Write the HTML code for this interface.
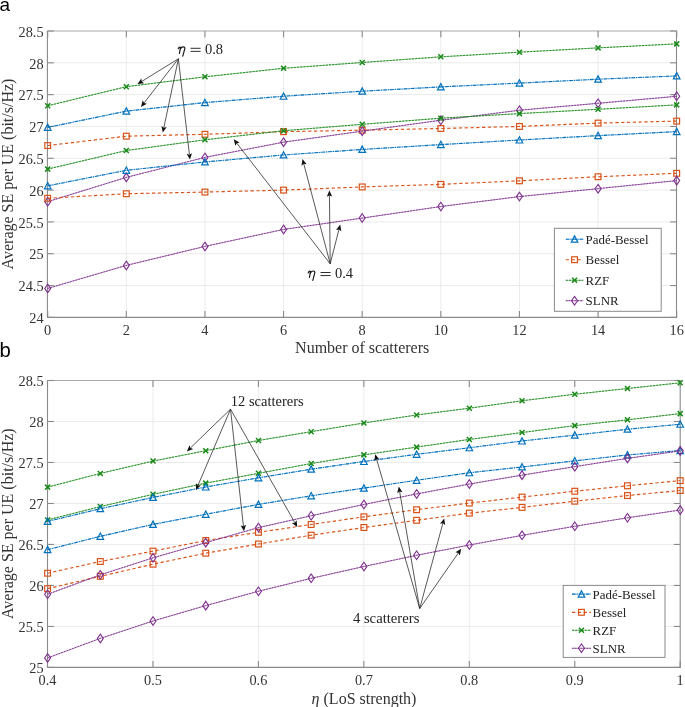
<!DOCTYPE html>
<html><head><meta charset="utf-8"><style>
html,body{margin:0;padding:0;background:#fff;}
svg{display:block;will-change:transform;}
.tk{font-family:"Liberation Serif",serif;font-size:14.3px;fill:#333;}
.lb{font-family:"Liberation Serif",serif;font-size:16px;fill:#333;}
.lg{font-family:"Liberation Serif",serif;font-size:12.9px;fill:#222;}
.an{font-family:"Liberation Serif",serif;font-size:14.5px;fill:#222;}
.pl{font-family:"Liberation Sans",sans-serif;font-size:19px;fill:#000;}
</style></head><body>
<svg width="685" height="707" viewBox="0 0 685 707">
<rect width="685" height="707" fill="#fff"/>
<line x1="126.33" y1="30.95" x2="126.33" y2="317.4" stroke="#ebebeb" stroke-width="1"/><line x1="204.95" y1="30.95" x2="204.95" y2="317.4" stroke="#ebebeb" stroke-width="1"/><line x1="283.57" y1="30.95" x2="283.57" y2="317.4" stroke="#ebebeb" stroke-width="1"/><line x1="362.20" y1="30.95" x2="362.20" y2="317.4" stroke="#ebebeb" stroke-width="1"/><line x1="440.82" y1="30.95" x2="440.82" y2="317.4" stroke="#ebebeb" stroke-width="1"/><line x1="519.45" y1="30.95" x2="519.45" y2="317.4" stroke="#ebebeb" stroke-width="1"/><line x1="598.08" y1="30.95" x2="598.08" y2="317.4" stroke="#ebebeb" stroke-width="1"/><line x1="47.4" y1="285.56" x2="676.5" y2="285.56" stroke="#ebebeb" stroke-width="1"/><line x1="47.4" y1="253.74" x2="676.5" y2="253.74" stroke="#ebebeb" stroke-width="1"/><line x1="47.4" y1="221.92" x2="676.5" y2="221.92" stroke="#ebebeb" stroke-width="1"/><line x1="47.4" y1="190.10" x2="676.5" y2="190.10" stroke="#ebebeb" stroke-width="1"/><line x1="47.4" y1="158.28" x2="676.5" y2="158.28" stroke="#ebebeb" stroke-width="1"/><line x1="47.4" y1="126.46" x2="676.5" y2="126.46" stroke="#ebebeb" stroke-width="1"/><line x1="47.4" y1="94.64" x2="676.5" y2="94.64" stroke="#ebebeb" stroke-width="1"/><line x1="47.4" y1="62.82" x2="676.5" y2="62.82" stroke="#ebebeb" stroke-width="1"/>
<line x1="46.9" y1="30.95" x2="677.0" y2="30.95" stroke="#a8a8a8" stroke-width="1.1"/><line x1="46.9" y1="317.4" x2="677.0" y2="317.4" stroke="#8a8a8a" stroke-width="1.1"/><line x1="47.4" y1="30.95" x2="47.4" y2="317.4" stroke="#8a8a8a" stroke-width="1.1"/><line x1="676.5" y1="30.95" x2="676.5" y2="317.4" stroke="#8a8a8a" stroke-width="1.1"/><line x1="47.70" y1="317.4" x2="47.70" y2="311.0" stroke="#8a8a8a" stroke-width="1.1"/><line x1="47.70" y1="30.95" x2="47.70" y2="37.35" stroke="#8a8a8a" stroke-width="1.1"/><line x1="126.33" y1="317.4" x2="126.33" y2="311.0" stroke="#8a8a8a" stroke-width="1.1"/><line x1="126.33" y1="30.95" x2="126.33" y2="37.35" stroke="#8a8a8a" stroke-width="1.1"/><line x1="204.95" y1="317.4" x2="204.95" y2="311.0" stroke="#8a8a8a" stroke-width="1.1"/><line x1="204.95" y1="30.95" x2="204.95" y2="37.35" stroke="#8a8a8a" stroke-width="1.1"/><line x1="283.57" y1="317.4" x2="283.57" y2="311.0" stroke="#8a8a8a" stroke-width="1.1"/><line x1="283.57" y1="30.95" x2="283.57" y2="37.35" stroke="#8a8a8a" stroke-width="1.1"/><line x1="362.20" y1="317.4" x2="362.20" y2="311.0" stroke="#8a8a8a" stroke-width="1.1"/><line x1="362.20" y1="30.95" x2="362.20" y2="37.35" stroke="#8a8a8a" stroke-width="1.1"/><line x1="440.82" y1="317.4" x2="440.82" y2="311.0" stroke="#8a8a8a" stroke-width="1.1"/><line x1="440.82" y1="30.95" x2="440.82" y2="37.35" stroke="#8a8a8a" stroke-width="1.1"/><line x1="519.45" y1="317.4" x2="519.45" y2="311.0" stroke="#8a8a8a" stroke-width="1.1"/><line x1="519.45" y1="30.95" x2="519.45" y2="37.35" stroke="#8a8a8a" stroke-width="1.1"/><line x1="598.08" y1="317.4" x2="598.08" y2="311.0" stroke="#8a8a8a" stroke-width="1.1"/><line x1="598.08" y1="30.95" x2="598.08" y2="37.35" stroke="#8a8a8a" stroke-width="1.1"/><line x1="676.70" y1="317.4" x2="676.70" y2="311.0" stroke="#8a8a8a" stroke-width="1.1"/><line x1="676.70" y1="30.95" x2="676.70" y2="37.35" stroke="#8a8a8a" stroke-width="1.1"/><line x1="47.4" y1="317.38" x2="53.8" y2="317.38" stroke="#8a8a8a" stroke-width="1.1"/><line x1="676.5" y1="317.38" x2="670.1" y2="317.38" stroke="#8a8a8a" stroke-width="1.1"/><line x1="47.4" y1="285.56" x2="53.8" y2="285.56" stroke="#8a8a8a" stroke-width="1.1"/><line x1="676.5" y1="285.56" x2="670.1" y2="285.56" stroke="#8a8a8a" stroke-width="1.1"/><line x1="47.4" y1="253.74" x2="53.8" y2="253.74" stroke="#8a8a8a" stroke-width="1.1"/><line x1="676.5" y1="253.74" x2="670.1" y2="253.74" stroke="#8a8a8a" stroke-width="1.1"/><line x1="47.4" y1="221.92" x2="53.8" y2="221.92" stroke="#8a8a8a" stroke-width="1.1"/><line x1="676.5" y1="221.92" x2="670.1" y2="221.92" stroke="#8a8a8a" stroke-width="1.1"/><line x1="47.4" y1="190.10" x2="53.8" y2="190.10" stroke="#8a8a8a" stroke-width="1.1"/><line x1="676.5" y1="190.10" x2="670.1" y2="190.10" stroke="#8a8a8a" stroke-width="1.1"/><line x1="47.4" y1="158.28" x2="53.8" y2="158.28" stroke="#8a8a8a" stroke-width="1.1"/><line x1="676.5" y1="158.28" x2="670.1" y2="158.28" stroke="#8a8a8a" stroke-width="1.1"/><line x1="47.4" y1="126.46" x2="53.8" y2="126.46" stroke="#8a8a8a" stroke-width="1.1"/><line x1="676.5" y1="126.46" x2="670.1" y2="126.46" stroke="#8a8a8a" stroke-width="1.1"/><line x1="47.4" y1="94.64" x2="53.8" y2="94.64" stroke="#8a8a8a" stroke-width="1.1"/><line x1="676.5" y1="94.64" x2="670.1" y2="94.64" stroke="#8a8a8a" stroke-width="1.1"/><line x1="47.4" y1="62.82" x2="53.8" y2="62.82" stroke="#8a8a8a" stroke-width="1.1"/><line x1="676.5" y1="62.82" x2="670.1" y2="62.82" stroke="#8a8a8a" stroke-width="1.1"/><line x1="47.4" y1="31.00" x2="53.8" y2="31.00" stroke="#8a8a8a" stroke-width="1.1"/><line x1="676.5" y1="31.00" x2="670.1" y2="31.00" stroke="#8a8a8a" stroke-width="1.1"/><text x="47.70" y="335.4" text-anchor="middle" class="tk">0</text><text x="126.33" y="335.4" text-anchor="middle" class="tk">2</text><text x="204.95" y="335.4" text-anchor="middle" class="tk">4</text><text x="283.57" y="335.4" text-anchor="middle" class="tk">6</text><text x="362.20" y="335.4" text-anchor="middle" class="tk">8</text><text x="440.82" y="335.4" text-anchor="middle" class="tk">10</text><text x="519.45" y="335.4" text-anchor="middle" class="tk">12</text><text x="598.08" y="335.4" text-anchor="middle" class="tk">14</text><text x="676.70" y="335.4" text-anchor="middle" class="tk">16</text><text x="43.6" y="323.08" text-anchor="end" class="tk">24</text><text x="43.6" y="291.26" text-anchor="end" class="tk">24.5</text><text x="43.6" y="259.44" text-anchor="end" class="tk">25</text><text x="43.6" y="227.62" text-anchor="end" class="tk">25.5</text><text x="43.6" y="195.80" text-anchor="end" class="tk">26</text><text x="43.6" y="163.98" text-anchor="end" class="tk">26.5</text><text x="43.6" y="132.16" text-anchor="end" class="tk">27</text><text x="43.6" y="100.34" text-anchor="end" class="tk">27.5</text><text x="43.6" y="68.52" text-anchor="end" class="tk">28</text><text x="43.6" y="36.70" text-anchor="end" class="tk">28.5</text>
<polyline points="47.70,127.41 126.33,111.12 204.95,102.59 283.57,96.23 362.20,91.20 440.82,86.88 519.45,83.12 598.08,79.18 676.70,75.93" fill="none" stroke="#0072BD" stroke-opacity="0.3" stroke-width="1.1"/><polyline points="47.70,127.41 126.33,111.12 204.95,102.59 283.57,96.23 362.20,91.20 440.82,86.88 519.45,83.12 598.08,79.18 676.70,75.93" fill="none" stroke="#0072BD" stroke-width="1.1" stroke-dasharray="3.6 1.1 1.1 1.1"/><path d="M47.70,124.11 L51.00,130.41 L44.40,130.41 Z" fill="none" stroke="#0072BD" stroke-width="1.2" stroke-linejoin="miter"/><path d="M126.33,107.82 L129.62,114.12 L123.03,114.12 Z" fill="none" stroke="#0072BD" stroke-width="1.2" stroke-linejoin="miter"/><path d="M204.95,99.30 L208.25,105.59 L201.65,105.59 Z" fill="none" stroke="#0072BD" stroke-width="1.2" stroke-linejoin="miter"/><path d="M283.57,92.93 L286.88,99.23 L280.27,99.23 Z" fill="none" stroke="#0072BD" stroke-width="1.2" stroke-linejoin="miter"/><path d="M362.20,87.90 L365.50,94.20 L358.90,94.20 Z" fill="none" stroke="#0072BD" stroke-width="1.2" stroke-linejoin="miter"/><path d="M440.82,83.58 L444.12,89.88 L437.52,89.88 Z" fill="none" stroke="#0072BD" stroke-width="1.2" stroke-linejoin="miter"/><path d="M519.45,79.82 L522.75,86.12 L516.15,86.12 Z" fill="none" stroke="#0072BD" stroke-width="1.2" stroke-linejoin="miter"/><path d="M598.08,75.88 L601.38,82.18 L594.78,82.18 Z" fill="none" stroke="#0072BD" stroke-width="1.2" stroke-linejoin="miter"/><path d="M676.70,72.63 L680.00,78.93 L673.40,78.93 Z" fill="none" stroke="#0072BD" stroke-width="1.2" stroke-linejoin="miter"/>
<polyline points="47.70,145.55 126.33,136.20 204.95,134.29 283.57,131.68 362.20,130.21 440.82,128.50 519.45,126.46 598.08,123.09 676.70,121.11" fill="none" stroke="#D95319" stroke-width="1.15" stroke-dasharray="3.3 2.5"/><rect x="44.80" y="142.65" width="5.8" height="5.8" fill="none" stroke="#D95319" stroke-width="1.2"/><rect x="123.42" y="133.30" width="5.8" height="5.8" fill="none" stroke="#D95319" stroke-width="1.2"/><rect x="202.05" y="131.39" width="5.8" height="5.8" fill="none" stroke="#D95319" stroke-width="1.2"/><rect x="280.68" y="128.78" width="5.8" height="5.8" fill="none" stroke="#D95319" stroke-width="1.2"/><rect x="359.30" y="127.31" width="5.8" height="5.8" fill="none" stroke="#D95319" stroke-width="1.2"/><rect x="437.93" y="125.60" width="5.8" height="5.8" fill="none" stroke="#D95319" stroke-width="1.2"/><rect x="516.55" y="123.56" width="5.8" height="5.8" fill="none" stroke="#D95319" stroke-width="1.2"/><rect x="595.18" y="120.19" width="5.8" height="5.8" fill="none" stroke="#D95319" stroke-width="1.2"/><rect x="673.80" y="118.21" width="5.8" height="5.8" fill="none" stroke="#D95319" stroke-width="1.2"/>
<polyline points="47.70,105.78 126.33,86.69 204.95,76.82 283.57,68.29 362.20,62.50 440.82,56.84 519.45,52.19 598.08,47.86 676.70,43.86" fill="none" stroke="#1a8a1a" stroke-opacity="0.45" stroke-width="0.95"/><polyline points="47.70,105.78 126.33,86.69 204.95,76.82 283.57,68.29 362.20,62.50 440.82,56.84 519.45,52.19 598.08,47.86 676.70,43.86" fill="none" stroke="#1a8a1a" stroke-width="0.95" stroke-dasharray="2.0 1.2"/><path d="M45.20,103.28 L50.20,108.28 M45.20,108.28 L50.20,103.28" stroke="#1a8a1a" stroke-width="1.5"/><path d="M123.83,84.19 L128.82,89.19 M123.83,89.19 L128.82,84.19" stroke="#1a8a1a" stroke-width="1.5"/><path d="M202.45,74.32 L207.45,79.32 M202.45,79.32 L207.45,74.32" stroke="#1a8a1a" stroke-width="1.5"/><path d="M281.07,65.79 L286.07,70.79 M281.07,70.79 L286.07,65.79" stroke="#1a8a1a" stroke-width="1.5"/><path d="M359.70,60.00 L364.70,65.00 M359.70,65.00 L364.70,60.00" stroke="#1a8a1a" stroke-width="1.5"/><path d="M438.32,54.34 L443.32,59.34 M438.32,59.34 L443.32,54.34" stroke="#1a8a1a" stroke-width="1.5"/><path d="M516.95,49.69 L521.95,54.69 M516.95,54.69 L521.95,49.69" stroke="#1a8a1a" stroke-width="1.5"/><path d="M595.58,45.36 L600.58,50.36 M595.58,50.36 L600.58,45.36" stroke="#1a8a1a" stroke-width="1.5"/><path d="M674.20,41.36 L679.20,46.36 M674.20,46.36 L679.20,41.36" stroke="#1a8a1a" stroke-width="1.5"/>
<polyline points="47.70,201.68 126.33,177.37 204.95,157.39 283.57,142.18 362.20,131.17 440.82,120.22 519.45,110.23 598.08,103.30 676.70,96.29" fill="none" stroke="#7E2F8E" stroke-opacity="0.6" stroke-width="0.9"/><polyline points="47.70,201.68 126.33,177.37 204.95,157.39 283.57,142.18 362.20,131.17 440.82,120.22 519.45,110.23 598.08,103.30 676.70,96.29" fill="none" stroke="#7E2F8E" stroke-width="0.9" stroke-dasharray="1.7 1.2"/><path d="M47.70,197.38 L50.70,201.68 L47.70,205.98 L44.70,201.68 Z" fill="none" stroke="#7E2F8E" stroke-width="1.1"/><path d="M126.33,173.07 L129.32,177.37 L126.33,181.67 L123.33,177.37 Z" fill="none" stroke="#7E2F8E" stroke-width="1.1"/><path d="M204.95,153.09 L207.95,157.39 L204.95,161.69 L201.95,157.39 Z" fill="none" stroke="#7E2F8E" stroke-width="1.1"/><path d="M283.57,137.88 L286.57,142.18 L283.57,146.48 L280.57,142.18 Z" fill="none" stroke="#7E2F8E" stroke-width="1.1"/><path d="M362.20,126.87 L365.20,131.17 L362.20,135.47 L359.20,131.17 Z" fill="none" stroke="#7E2F8E" stroke-width="1.1"/><path d="M440.82,115.92 L443.82,120.22 L440.82,124.52 L437.82,120.22 Z" fill="none" stroke="#7E2F8E" stroke-width="1.1"/><path d="M519.45,105.93 L522.45,110.23 L519.45,114.53 L516.45,110.23 Z" fill="none" stroke="#7E2F8E" stroke-width="1.1"/><path d="M598.08,99.00 L601.08,103.30 L598.08,107.60 L595.08,103.30 Z" fill="none" stroke="#7E2F8E" stroke-width="1.1"/><path d="M676.70,91.99 L679.70,96.29 L676.70,100.59 L673.70,96.29 Z" fill="none" stroke="#7E2F8E" stroke-width="1.1"/>
<polyline points="47.70,185.84 126.33,170.31 204.95,161.97 283.57,154.97 362.20,149.43 440.82,144.60 519.45,140.02 598.08,135.62 676.70,131.61" fill="none" stroke="#0072BD" stroke-opacity="0.3" stroke-width="1.1"/><polyline points="47.70,185.84 126.33,170.31 204.95,161.97 283.57,154.97 362.20,149.43 440.82,144.60 519.45,140.02 598.08,135.62 676.70,131.61" fill="none" stroke="#0072BD" stroke-width="1.1" stroke-dasharray="3.6 1.1 1.1 1.1"/><path d="M47.70,182.54 L51.00,188.84 L44.40,188.84 Z" fill="none" stroke="#0072BD" stroke-width="1.2" stroke-linejoin="miter"/><path d="M126.33,167.01 L129.62,173.31 L123.03,173.31 Z" fill="none" stroke="#0072BD" stroke-width="1.2" stroke-linejoin="miter"/><path d="M204.95,158.67 L208.25,164.97 L201.65,164.97 Z" fill="none" stroke="#0072BD" stroke-width="1.2" stroke-linejoin="miter"/><path d="M283.57,151.67 L286.88,157.97 L280.27,157.97 Z" fill="none" stroke="#0072BD" stroke-width="1.2" stroke-linejoin="miter"/><path d="M362.20,146.13 L365.50,152.43 L358.90,152.43 Z" fill="none" stroke="#0072BD" stroke-width="1.2" stroke-linejoin="miter"/><path d="M440.82,141.30 L444.12,147.60 L437.52,147.60 Z" fill="none" stroke="#0072BD" stroke-width="1.2" stroke-linejoin="miter"/><path d="M519.45,136.72 L522.75,143.02 L516.15,143.02 Z" fill="none" stroke="#0072BD" stroke-width="1.2" stroke-linejoin="miter"/><path d="M598.08,132.32 L601.38,138.62 L594.78,138.62 Z" fill="none" stroke="#0072BD" stroke-width="1.2" stroke-linejoin="miter"/><path d="M676.70,128.31 L680.00,134.61 L673.40,134.61 Z" fill="none" stroke="#0072BD" stroke-width="1.2" stroke-linejoin="miter"/>
<polyline points="47.70,198.31 126.33,193.73 204.95,192.07 283.57,190.10 362.20,186.92 440.82,184.37 519.45,180.81 598.08,176.74 676.70,173.30" fill="none" stroke="#D95319" stroke-width="1.15" stroke-dasharray="3.3 2.5"/><rect x="44.80" y="195.41" width="5.8" height="5.8" fill="none" stroke="#D95319" stroke-width="1.2"/><rect x="123.42" y="190.83" width="5.8" height="5.8" fill="none" stroke="#D95319" stroke-width="1.2"/><rect x="202.05" y="189.17" width="5.8" height="5.8" fill="none" stroke="#D95319" stroke-width="1.2"/><rect x="280.68" y="187.20" width="5.8" height="5.8" fill="none" stroke="#D95319" stroke-width="1.2"/><rect x="359.30" y="184.02" width="5.8" height="5.8" fill="none" stroke="#D95319" stroke-width="1.2"/><rect x="437.93" y="181.47" width="5.8" height="5.8" fill="none" stroke="#D95319" stroke-width="1.2"/><rect x="516.55" y="177.91" width="5.8" height="5.8" fill="none" stroke="#D95319" stroke-width="1.2"/><rect x="595.18" y="173.84" width="5.8" height="5.8" fill="none" stroke="#D95319" stroke-width="1.2"/><rect x="673.80" y="170.40" width="5.8" height="5.8" fill="none" stroke="#D95319" stroke-width="1.2"/>
<polyline points="47.70,169.10 126.33,150.52 204.95,139.82 283.57,130.72 362.20,124.30 440.82,118.19 519.45,113.60 598.08,109.28 676.70,104.89" fill="none" stroke="#1a8a1a" stroke-opacity="0.45" stroke-width="0.95"/><polyline points="47.70,169.10 126.33,150.52 204.95,139.82 283.57,130.72 362.20,124.30 440.82,118.19 519.45,113.60 598.08,109.28 676.70,104.89" fill="none" stroke="#1a8a1a" stroke-width="0.95" stroke-dasharray="2.0 1.2"/><path d="M45.20,166.60 L50.20,171.60 M45.20,171.60 L50.20,166.60" stroke="#1a8a1a" stroke-width="1.5"/><path d="M123.83,148.02 L128.82,153.02 M123.83,153.02 L128.82,148.02" stroke="#1a8a1a" stroke-width="1.5"/><path d="M202.45,137.32 L207.45,142.32 M202.45,142.32 L207.45,137.32" stroke="#1a8a1a" stroke-width="1.5"/><path d="M281.07,128.22 L286.07,133.22 M281.07,133.22 L286.07,128.22" stroke="#1a8a1a" stroke-width="1.5"/><path d="M359.70,121.80 L364.70,126.80 M359.70,126.80 L364.70,121.80" stroke="#1a8a1a" stroke-width="1.5"/><path d="M438.32,115.69 L443.32,120.69 M438.32,120.69 L443.32,115.69" stroke="#1a8a1a" stroke-width="1.5"/><path d="M516.95,111.10 L521.95,116.10 M516.95,116.10 L521.95,111.10" stroke="#1a8a1a" stroke-width="1.5"/><path d="M595.58,106.78 L600.58,111.78 M595.58,111.78 L600.58,106.78" stroke="#1a8a1a" stroke-width="1.5"/><path d="M674.20,102.39 L679.20,107.39 M674.20,107.39 L679.20,102.39" stroke="#1a8a1a" stroke-width="1.5"/>
<polyline points="47.70,288.42 126.33,265.39 204.95,246.42 283.57,229.43 362.20,218.10 440.82,206.52 519.45,196.59 598.08,188.64 676.70,180.62" fill="none" stroke="#7E2F8E" stroke-opacity="0.6" stroke-width="0.9"/><polyline points="47.70,288.42 126.33,265.39 204.95,246.42 283.57,229.43 362.20,218.10 440.82,206.52 519.45,196.59 598.08,188.64 676.70,180.62" fill="none" stroke="#7E2F8E" stroke-width="0.9" stroke-dasharray="1.7 1.2"/><path d="M47.70,284.12 L50.70,288.42 L47.70,292.72 L44.70,288.42 Z" fill="none" stroke="#7E2F8E" stroke-width="1.1"/><path d="M126.33,261.09 L129.32,265.39 L126.33,269.69 L123.33,265.39 Z" fill="none" stroke="#7E2F8E" stroke-width="1.1"/><path d="M204.95,242.12 L207.95,246.42 L204.95,250.72 L201.95,246.42 Z" fill="none" stroke="#7E2F8E" stroke-width="1.1"/><path d="M283.57,225.13 L286.57,229.43 L283.57,233.73 L280.57,229.43 Z" fill="none" stroke="#7E2F8E" stroke-width="1.1"/><path d="M362.20,213.80 L365.20,218.10 L362.20,222.40 L359.20,218.10 Z" fill="none" stroke="#7E2F8E" stroke-width="1.1"/><path d="M440.82,202.22 L443.82,206.52 L440.82,210.82 L437.82,206.52 Z" fill="none" stroke="#7E2F8E" stroke-width="1.1"/><path d="M519.45,192.29 L522.45,196.59 L519.45,200.89 L516.45,196.59 Z" fill="none" stroke="#7E2F8E" stroke-width="1.1"/><path d="M598.08,184.34 L601.08,188.64 L598.08,192.94 L595.08,188.64 Z" fill="none" stroke="#7E2F8E" stroke-width="1.1"/><path d="M676.70,176.32 L679.70,180.62 L676.70,184.92 L673.70,180.62 Z" fill="none" stroke="#7E2F8E" stroke-width="1.1"/>
<line x1="178.40" y1="58.80" x2="141.75" y2="81.47" stroke="#222" stroke-width="0.75"/><path d="M137.50,84.10 L141.35,78.54 L141.75,81.47 L144.19,83.13 Z" fill="#111"/>
<line x1="178.40" y1="58.80" x2="144.07" y2="102.95" stroke="#222" stroke-width="0.75"/><path d="M141.00,106.90 L142.67,100.35 L144.07,102.95 L146.94,103.66 Z" fill="#111"/>
<line x1="178.40" y1="58.80" x2="163.83" y2="127.71" stroke="#222" stroke-width="0.75"/><path d="M162.80,132.60 L161.44,125.98 L163.83,127.71 L166.72,127.09 Z" fill="#111"/>
<line x1="178.40" y1="58.80" x2="189.43" y2="154.63" stroke="#222" stroke-width="0.75"/><path d="M190.00,159.60 L186.61,153.75 L189.43,154.63 L191.97,153.13 Z" fill="#111"/>
<line x1="330.20" y1="263.80" x2="236.76" y2="143.15" stroke="#222" stroke-width="0.75"/><path d="M233.70,139.20 L239.63,142.45 L236.76,143.15 L235.36,145.76 Z" fill="#111"/>
<line x1="330.20" y1="263.80" x2="303.78" y2="163.83" stroke="#222" stroke-width="0.75"/><path d="M302.50,159.00 L306.69,164.30 L303.78,163.83 L301.47,165.68 Z" fill="#111"/>
<line x1="330.20" y1="263.80" x2="329.45" y2="195.40" stroke="#222" stroke-width="0.75"/><path d="M329.40,190.40 L332.17,196.57 L329.45,195.40 L326.77,196.63 Z" fill="#111"/>
<line x1="330.20" y1="263.80" x2="338.96" y2="229.44" stroke="#222" stroke-width="0.75"/><path d="M340.20,224.60 L341.28,231.28 L338.96,229.44 L336.05,229.94 Z" fill="#111"/>
<rect x="554.4" y="228.3" width="106.80" height="83.00" fill="#fff" stroke="#8a8a8a" stroke-width="1"/><line x1="565.8" y1="239.2" x2="583.3" y2="239.2" fill="none" stroke="#0072BD" stroke-opacity="0.3" stroke-width="1.1"/><line x1="565.8" y1="239.2" x2="583.3" y2="239.2" fill="none" stroke="#0072BD" stroke-width="1.1" stroke-dasharray="3.6 1.1 1.1 1.1"/><path d="M574.55,235.90 L577.85,242.20 L571.25,242.20 Z" fill="none" stroke="#0072BD" stroke-width="1.2" stroke-linejoin="miter"/><text x="585.6" y="243.80" class="lg">Padé-Bessel</text><line x1="565.8" y1="259.7" x2="583.3" y2="259.7" fill="none" stroke="#D95319" stroke-width="1.15" stroke-dasharray="3.3 2.5"/><rect x="571.65" y="256.80" width="5.8" height="5.8" fill="none" stroke="#D95319" stroke-width="1.2"/><text x="585.6" y="264.30" class="lg">Bessel</text><line x1="565.8" y1="280.3" x2="583.3" y2="280.3" fill="none" stroke="#1a8a1a" stroke-opacity="0.45" stroke-width="0.95"/><line x1="565.8" y1="280.3" x2="583.3" y2="280.3" fill="none" stroke="#1a8a1a" stroke-width="0.95" stroke-dasharray="2.0 1.2"/><path d="M572.05,277.80 L577.05,282.80 M572.05,282.80 L577.05,277.80" stroke="#1a8a1a" stroke-width="1.5"/><text x="585.6" y="284.90" class="lg">RZF</text><line x1="565.8" y1="300.7" x2="583.3" y2="300.7" fill="none" stroke="#7E2F8E" stroke-opacity="0.6" stroke-width="0.9"/><line x1="565.8" y1="300.7" x2="583.3" y2="300.7" fill="none" stroke="#7E2F8E" stroke-width="0.9" stroke-dasharray="1.7 1.2"/><path d="M574.55,296.40 L577.55,300.70 L574.55,305.00 L571.55,300.70 Z" fill="none" stroke="#7E2F8E" stroke-width="1.1"/><text x="585.6" y="305.30" class="lg">SLNR</text>
<line x1="152.95" y1="380.5" x2="152.95" y2="667.4" stroke="#ebebeb" stroke-width="1"/><line x1="258.40" y1="380.5" x2="258.40" y2="667.4" stroke="#ebebeb" stroke-width="1"/><line x1="363.85" y1="380.5" x2="363.85" y2="667.4" stroke="#ebebeb" stroke-width="1"/><line x1="469.30" y1="380.5" x2="469.30" y2="667.4" stroke="#ebebeb" stroke-width="1"/><line x1="574.75" y1="380.5" x2="574.75" y2="667.4" stroke="#ebebeb" stroke-width="1"/><line x1="47.5" y1="626.41" x2="680.2" y2="626.41" stroke="#ebebeb" stroke-width="1"/><line x1="47.5" y1="585.43" x2="680.2" y2="585.43" stroke="#ebebeb" stroke-width="1"/><line x1="47.5" y1="544.44" x2="680.2" y2="544.44" stroke="#ebebeb" stroke-width="1"/><line x1="47.5" y1="503.46" x2="680.2" y2="503.46" stroke="#ebebeb" stroke-width="1"/><line x1="47.5" y1="462.47" x2="680.2" y2="462.47" stroke="#ebebeb" stroke-width="1"/><line x1="47.5" y1="421.49" x2="680.2" y2="421.49" stroke="#ebebeb" stroke-width="1"/>
<line x1="47.0" y1="380.5" x2="680.7" y2="380.5" stroke="#a8a8a8" stroke-width="1.1"/><line x1="47.0" y1="667.4" x2="680.7" y2="667.4" stroke="#8a8a8a" stroke-width="1.1"/><line x1="47.5" y1="380.5" x2="47.5" y2="667.4" stroke="#8a8a8a" stroke-width="1.1"/><line x1="680.2" y1="380.5" x2="680.2" y2="667.4" stroke="#8a8a8a" stroke-width="1.1"/><line x1="47.50" y1="667.4" x2="47.50" y2="661.0" stroke="#8a8a8a" stroke-width="1.1"/><line x1="47.50" y1="380.5" x2="47.50" y2="386.9" stroke="#8a8a8a" stroke-width="1.1"/><line x1="152.95" y1="667.4" x2="152.95" y2="661.0" stroke="#8a8a8a" stroke-width="1.1"/><line x1="152.95" y1="380.5" x2="152.95" y2="386.9" stroke="#8a8a8a" stroke-width="1.1"/><line x1="258.40" y1="667.4" x2="258.40" y2="661.0" stroke="#8a8a8a" stroke-width="1.1"/><line x1="258.40" y1="380.5" x2="258.40" y2="386.9" stroke="#8a8a8a" stroke-width="1.1"/><line x1="363.85" y1="667.4" x2="363.85" y2="661.0" stroke="#8a8a8a" stroke-width="1.1"/><line x1="363.85" y1="380.5" x2="363.85" y2="386.9" stroke="#8a8a8a" stroke-width="1.1"/><line x1="469.30" y1="667.4" x2="469.30" y2="661.0" stroke="#8a8a8a" stroke-width="1.1"/><line x1="469.30" y1="380.5" x2="469.30" y2="386.9" stroke="#8a8a8a" stroke-width="1.1"/><line x1="574.75" y1="667.4" x2="574.75" y2="661.0" stroke="#8a8a8a" stroke-width="1.1"/><line x1="574.75" y1="380.5" x2="574.75" y2="386.9" stroke="#8a8a8a" stroke-width="1.1"/><line x1="680.20" y1="667.4" x2="680.20" y2="661.0" stroke="#8a8a8a" stroke-width="1.1"/><line x1="680.20" y1="380.5" x2="680.20" y2="386.9" stroke="#8a8a8a" stroke-width="1.1"/><line x1="47.5" y1="667.40" x2="53.9" y2="667.40" stroke="#8a8a8a" stroke-width="1.1"/><line x1="680.2" y1="667.40" x2="673.8000000000001" y2="667.40" stroke="#8a8a8a" stroke-width="1.1"/><line x1="47.5" y1="626.41" x2="53.9" y2="626.41" stroke="#8a8a8a" stroke-width="1.1"/><line x1="680.2" y1="626.41" x2="673.8000000000001" y2="626.41" stroke="#8a8a8a" stroke-width="1.1"/><line x1="47.5" y1="585.43" x2="53.9" y2="585.43" stroke="#8a8a8a" stroke-width="1.1"/><line x1="680.2" y1="585.43" x2="673.8000000000001" y2="585.43" stroke="#8a8a8a" stroke-width="1.1"/><line x1="47.5" y1="544.44" x2="53.9" y2="544.44" stroke="#8a8a8a" stroke-width="1.1"/><line x1="680.2" y1="544.44" x2="673.8000000000001" y2="544.44" stroke="#8a8a8a" stroke-width="1.1"/><line x1="47.5" y1="503.46" x2="53.9" y2="503.46" stroke="#8a8a8a" stroke-width="1.1"/><line x1="680.2" y1="503.46" x2="673.8000000000001" y2="503.46" stroke="#8a8a8a" stroke-width="1.1"/><line x1="47.5" y1="462.47" x2="53.9" y2="462.47" stroke="#8a8a8a" stroke-width="1.1"/><line x1="680.2" y1="462.47" x2="673.8000000000001" y2="462.47" stroke="#8a8a8a" stroke-width="1.1"/><line x1="47.5" y1="421.49" x2="53.9" y2="421.49" stroke="#8a8a8a" stroke-width="1.1"/><line x1="680.2" y1="421.49" x2="673.8000000000001" y2="421.49" stroke="#8a8a8a" stroke-width="1.1"/><line x1="47.5" y1="380.50" x2="53.9" y2="380.50" stroke="#8a8a8a" stroke-width="1.1"/><line x1="680.2" y1="380.50" x2="673.8000000000001" y2="380.50" stroke="#8a8a8a" stroke-width="1.1"/><text x="47.50" y="685.0" text-anchor="middle" class="tk">0.4</text><text x="152.95" y="685.0" text-anchor="middle" class="tk">0.5</text><text x="258.40" y="685.0" text-anchor="middle" class="tk">0.6</text><text x="363.85" y="685.0" text-anchor="middle" class="tk">0.7</text><text x="469.30" y="685.0" text-anchor="middle" class="tk">0.8</text><text x="574.75" y="685.0" text-anchor="middle" class="tk">0.9</text><text x="680.20" y="685.0" text-anchor="middle" class="tk">1</text><text x="43.6" y="673.10" text-anchor="end" class="tk">25</text><text x="43.6" y="632.11" text-anchor="end" class="tk">25.5</text><text x="43.6" y="591.13" text-anchor="end" class="tk">26</text><text x="43.6" y="550.14" text-anchor="end" class="tk">26.5</text><text x="43.6" y="509.16" text-anchor="end" class="tk">27</text><text x="43.6" y="468.17" text-anchor="end" class="tk">27.5</text><text x="43.6" y="427.19" text-anchor="end" class="tk">28</text><text x="43.6" y="386.20" text-anchor="end" class="tk">28.5</text>
<polyline points="47.60,549.66 100.32,536.34 153.03,524.41 205.75,514.28 258.47,504.39 311.18,495.81 363.90,488.13 416.62,480.28 469.33,472.77 522.05,466.96 574.77,460.83 627.48,454.95 680.20,450.54" fill="none" stroke="#0072BD" stroke-opacity="0.3" stroke-width="1.1"/><polyline points="47.60,549.66 100.32,536.34 153.03,524.41 205.75,514.28 258.47,504.39 311.18,495.81 363.90,488.13 416.62,480.28 469.33,472.77 522.05,466.96 574.77,460.83 627.48,454.95 680.20,450.54" fill="none" stroke="#0072BD" stroke-width="1.1" stroke-dasharray="3.6 1.1 1.1 1.1"/><path d="M47.60,546.36 L50.90,552.66 L44.30,552.66 Z" fill="none" stroke="#0072BD" stroke-width="1.2" stroke-linejoin="miter"/><path d="M100.32,533.04 L103.62,539.34 L97.02,539.34 Z" fill="none" stroke="#0072BD" stroke-width="1.2" stroke-linejoin="miter"/><path d="M153.03,521.11 L156.33,527.41 L149.73,527.41 Z" fill="none" stroke="#0072BD" stroke-width="1.2" stroke-linejoin="miter"/><path d="M205.75,510.98 L209.05,517.28 L202.45,517.28 Z" fill="none" stroke="#0072BD" stroke-width="1.2" stroke-linejoin="miter"/><path d="M258.47,501.09 L261.77,507.39 L255.17,507.39 Z" fill="none" stroke="#0072BD" stroke-width="1.2" stroke-linejoin="miter"/><path d="M311.18,492.51 L314.48,498.81 L307.88,498.81 Z" fill="none" stroke="#0072BD" stroke-width="1.2" stroke-linejoin="miter"/><path d="M363.90,484.83 L367.20,491.13 L360.60,491.13 Z" fill="none" stroke="#0072BD" stroke-width="1.2" stroke-linejoin="miter"/><path d="M416.62,476.98 L419.92,483.28 L413.32,483.28 Z" fill="none" stroke="#0072BD" stroke-width="1.2" stroke-linejoin="miter"/><path d="M469.33,469.47 L472.63,475.77 L466.03,475.77 Z" fill="none" stroke="#0072BD" stroke-width="1.2" stroke-linejoin="miter"/><path d="M522.05,463.66 L525.35,469.96 L518.75,469.96 Z" fill="none" stroke="#0072BD" stroke-width="1.2" stroke-linejoin="miter"/><path d="M574.77,457.53 L578.07,463.83 L571.47,463.83 Z" fill="none" stroke="#0072BD" stroke-width="1.2" stroke-linejoin="miter"/><path d="M627.48,451.65 L630.78,457.95 L624.18,457.95 Z" fill="none" stroke="#0072BD" stroke-width="1.2" stroke-linejoin="miter"/><path d="M680.20,447.24 L683.50,453.54 L676.90,453.54 Z" fill="none" stroke="#0072BD" stroke-width="1.2" stroke-linejoin="miter"/>
<polyline points="47.60,588.64 100.32,576.30 153.03,564.20 205.75,553.17 258.47,544.02 311.18,535.19 363.90,527.51 416.62,520.32 469.33,513.13 522.05,507.41 574.77,501.20 627.48,495.56 680.20,490.50" fill="none" stroke="#D95319" stroke-width="1.15" stroke-dasharray="3.3 2.5"/><rect x="44.70" y="585.74" width="5.8" height="5.8" fill="none" stroke="#D95319" stroke-width="1.2"/><rect x="97.42" y="573.40" width="5.8" height="5.8" fill="none" stroke="#D95319" stroke-width="1.2"/><rect x="150.13" y="561.30" width="5.8" height="5.8" fill="none" stroke="#D95319" stroke-width="1.2"/><rect x="202.85" y="550.27" width="5.8" height="5.8" fill="none" stroke="#D95319" stroke-width="1.2"/><rect x="255.57" y="541.12" width="5.8" height="5.8" fill="none" stroke="#D95319" stroke-width="1.2"/><rect x="308.28" y="532.29" width="5.8" height="5.8" fill="none" stroke="#D95319" stroke-width="1.2"/><rect x="361.00" y="524.61" width="5.8" height="5.8" fill="none" stroke="#D95319" stroke-width="1.2"/><rect x="413.72" y="517.42" width="5.8" height="5.8" fill="none" stroke="#D95319" stroke-width="1.2"/><rect x="466.43" y="510.23" width="5.8" height="5.8" fill="none" stroke="#D95319" stroke-width="1.2"/><rect x="519.15" y="504.51" width="5.8" height="5.8" fill="none" stroke="#D95319" stroke-width="1.2"/><rect x="571.87" y="498.30" width="5.8" height="5.8" fill="none" stroke="#D95319" stroke-width="1.2"/><rect x="624.58" y="492.66" width="5.8" height="5.8" fill="none" stroke="#D95319" stroke-width="1.2"/><rect x="677.30" y="487.60" width="5.8" height="5.8" fill="none" stroke="#D95319" stroke-width="1.2"/>
<polyline points="47.60,519.91 100.32,506.59 153.03,494.34 205.75,483.14 258.47,473.34 311.18,463.53 363.90,454.87 416.62,447.11 469.33,439.43 522.05,432.56 574.77,425.62 627.48,419.81 680.20,413.60" fill="none" stroke="#1a8a1a" stroke-opacity="0.45" stroke-width="0.95"/><polyline points="47.60,519.91 100.32,506.59 153.03,494.34 205.75,483.14 258.47,473.34 311.18,463.53 363.90,454.87 416.62,447.11 469.33,439.43 522.05,432.56 574.77,425.62 627.48,419.81 680.20,413.60" fill="none" stroke="#1a8a1a" stroke-width="0.95" stroke-dasharray="2.0 1.2"/><path d="M45.10,517.41 L50.10,522.41 M45.10,522.41 L50.10,517.41" stroke="#1a8a1a" stroke-width="1.5"/><path d="M97.82,504.09 L102.82,509.09 M97.82,509.09 L102.82,504.09" stroke="#1a8a1a" stroke-width="1.5"/><path d="M150.53,491.84 L155.53,496.84 M150.53,496.84 L155.53,491.84" stroke="#1a8a1a" stroke-width="1.5"/><path d="M203.25,480.64 L208.25,485.64 M203.25,485.64 L208.25,480.64" stroke="#1a8a1a" stroke-width="1.5"/><path d="M255.97,470.84 L260.97,475.84 M255.97,475.84 L260.97,470.84" stroke="#1a8a1a" stroke-width="1.5"/><path d="M308.68,461.03 L313.68,466.03 M308.68,466.03 L313.68,461.03" stroke="#1a8a1a" stroke-width="1.5"/><path d="M361.40,452.37 L366.40,457.37 M361.40,457.37 L366.40,452.37" stroke="#1a8a1a" stroke-width="1.5"/><path d="M414.12,444.61 L419.12,449.61 M414.12,449.61 L419.12,444.61" stroke="#1a8a1a" stroke-width="1.5"/><path d="M466.83,436.93 L471.83,441.93 M466.83,441.93 L471.83,436.93" stroke="#1a8a1a" stroke-width="1.5"/><path d="M519.55,430.06 L524.55,435.06 M519.55,435.06 L524.55,430.06" stroke="#1a8a1a" stroke-width="1.5"/><path d="M572.27,423.12 L577.27,428.12 M572.27,428.12 L577.27,423.12" stroke="#1a8a1a" stroke-width="1.5"/><path d="M624.98,417.31 L629.98,422.31 M624.98,422.31 L629.98,417.31" stroke="#1a8a1a" stroke-width="1.5"/><path d="M677.70,411.10 L682.70,416.10 M677.70,416.10 L682.70,411.10" stroke="#1a8a1a" stroke-width="1.5"/>
<polyline points="47.60,657.93 100.32,638.40 153.03,620.99 205.75,605.63 258.47,591.25 311.18,578.34 363.90,566.49 416.62,555.30 469.33,545.00 522.05,535.36 574.77,526.29 627.48,517.79 680.20,510.03" fill="none" stroke="#7E2F8E" stroke-opacity="0.6" stroke-width="0.9"/><polyline points="47.60,657.93 100.32,638.40 153.03,620.99 205.75,605.63 258.47,591.25 311.18,578.34 363.90,566.49 416.62,555.30 469.33,545.00 522.05,535.36 574.77,526.29 627.48,517.79 680.20,510.03" fill="none" stroke="#7E2F8E" stroke-width="0.9" stroke-dasharray="1.7 1.2"/><path d="M47.60,653.63 L50.60,657.93 L47.60,662.23 L44.60,657.93 Z" fill="none" stroke="#7E2F8E" stroke-width="1.1"/><path d="M100.32,634.10 L103.32,638.40 L100.32,642.70 L97.32,638.40 Z" fill="none" stroke="#7E2F8E" stroke-width="1.1"/><path d="M153.03,616.69 L156.03,620.99 L153.03,625.29 L150.03,620.99 Z" fill="none" stroke="#7E2F8E" stroke-width="1.1"/><path d="M205.75,601.33 L208.75,605.63 L205.75,609.93 L202.75,605.63 Z" fill="none" stroke="#7E2F8E" stroke-width="1.1"/><path d="M258.47,586.95 L261.47,591.25 L258.47,595.55 L255.47,591.25 Z" fill="none" stroke="#7E2F8E" stroke-width="1.1"/><path d="M311.18,574.04 L314.18,578.34 L311.18,582.64 L308.18,578.34 Z" fill="none" stroke="#7E2F8E" stroke-width="1.1"/><path d="M363.90,562.19 L366.90,566.49 L363.90,570.79 L360.90,566.49 Z" fill="none" stroke="#7E2F8E" stroke-width="1.1"/><path d="M416.62,551.00 L419.62,555.30 L416.62,559.60 L413.62,555.30 Z" fill="none" stroke="#7E2F8E" stroke-width="1.1"/><path d="M469.33,540.70 L472.33,545.00 L469.33,549.30 L466.33,545.00 Z" fill="none" stroke="#7E2F8E" stroke-width="1.1"/><path d="M522.05,531.06 L525.05,535.36 L522.05,539.66 L519.05,535.36 Z" fill="none" stroke="#7E2F8E" stroke-width="1.1"/><path d="M574.77,521.99 L577.77,526.29 L574.77,530.59 L571.77,526.29 Z" fill="none" stroke="#7E2F8E" stroke-width="1.1"/><path d="M627.48,513.49 L630.48,517.79 L627.48,522.09 L624.48,517.79 Z" fill="none" stroke="#7E2F8E" stroke-width="1.1"/><path d="M680.20,505.73 L683.20,510.03 L680.20,514.33 L677.20,510.03 Z" fill="none" stroke="#7E2F8E" stroke-width="1.1"/>
<polyline points="47.60,521.39 100.32,508.72 153.03,497.44 205.75,486.98 258.47,477.83 311.18,469.17 363.90,461.49 416.62,454.30 469.33,447.76 522.05,440.98 574.77,435.18 627.48,429.21 680.20,424.23" fill="none" stroke="#0072BD" stroke-opacity="0.3" stroke-width="1.1"/><polyline points="47.60,521.39 100.32,508.72 153.03,497.44 205.75,486.98 258.47,477.83 311.18,469.17 363.90,461.49 416.62,454.30 469.33,447.76 522.05,440.98 574.77,435.18 627.48,429.21 680.20,424.23" fill="none" stroke="#0072BD" stroke-width="1.1" stroke-dasharray="3.6 1.1 1.1 1.1"/><path d="M47.60,518.09 L50.90,524.39 L44.30,524.39 Z" fill="none" stroke="#0072BD" stroke-width="1.2" stroke-linejoin="miter"/><path d="M100.32,505.42 L103.62,511.72 L97.02,511.72 Z" fill="none" stroke="#0072BD" stroke-width="1.2" stroke-linejoin="miter"/><path d="M153.03,494.14 L156.33,500.44 L149.73,500.44 Z" fill="none" stroke="#0072BD" stroke-width="1.2" stroke-linejoin="miter"/><path d="M205.75,483.68 L209.05,489.98 L202.45,489.98 Z" fill="none" stroke="#0072BD" stroke-width="1.2" stroke-linejoin="miter"/><path d="M258.47,474.53 L261.77,480.83 L255.17,480.83 Z" fill="none" stroke="#0072BD" stroke-width="1.2" stroke-linejoin="miter"/><path d="M311.18,465.87 L314.48,472.17 L307.88,472.17 Z" fill="none" stroke="#0072BD" stroke-width="1.2" stroke-linejoin="miter"/><path d="M363.90,458.19 L367.20,464.49 L360.60,464.49 Z" fill="none" stroke="#0072BD" stroke-width="1.2" stroke-linejoin="miter"/><path d="M416.62,451.00 L419.92,457.30 L413.32,457.30 Z" fill="none" stroke="#0072BD" stroke-width="1.2" stroke-linejoin="miter"/><path d="M469.33,444.46 L472.63,450.76 L466.03,450.76 Z" fill="none" stroke="#0072BD" stroke-width="1.2" stroke-linejoin="miter"/><path d="M522.05,437.68 L525.35,443.98 L518.75,443.98 Z" fill="none" stroke="#0072BD" stroke-width="1.2" stroke-linejoin="miter"/><path d="M574.77,431.88 L578.07,438.18 L571.47,438.18 Z" fill="none" stroke="#0072BD" stroke-width="1.2" stroke-linejoin="miter"/><path d="M627.48,425.91 L630.78,432.21 L624.18,432.21 Z" fill="none" stroke="#0072BD" stroke-width="1.2" stroke-linejoin="miter"/><path d="M680.20,420.93 L683.50,427.23 L676.90,427.23 Z" fill="none" stroke="#0072BD" stroke-width="1.2" stroke-linejoin="miter"/>
<polyline points="47.60,573.19 100.32,561.51 153.03,551.13 205.75,540.51 258.47,532.33 311.18,524.49 363.90,516.81 416.62,509.70 469.33,503.08 522.05,497.12 574.77,491.23 627.48,485.76 680.20,480.61" fill="none" stroke="#D95319" stroke-width="1.15" stroke-dasharray="3.3 2.5"/><rect x="44.70" y="570.29" width="5.8" height="5.8" fill="none" stroke="#D95319" stroke-width="1.2"/><rect x="97.42" y="558.61" width="5.8" height="5.8" fill="none" stroke="#D95319" stroke-width="1.2"/><rect x="150.13" y="548.23" width="5.8" height="5.8" fill="none" stroke="#D95319" stroke-width="1.2"/><rect x="202.85" y="537.61" width="5.8" height="5.8" fill="none" stroke="#D95319" stroke-width="1.2"/><rect x="255.57" y="529.43" width="5.8" height="5.8" fill="none" stroke="#D95319" stroke-width="1.2"/><rect x="308.28" y="521.59" width="5.8" height="5.8" fill="none" stroke="#D95319" stroke-width="1.2"/><rect x="361.00" y="513.91" width="5.8" height="5.8" fill="none" stroke="#D95319" stroke-width="1.2"/><rect x="413.72" y="506.80" width="5.8" height="5.8" fill="none" stroke="#D95319" stroke-width="1.2"/><rect x="466.43" y="500.18" width="5.8" height="5.8" fill="none" stroke="#D95319" stroke-width="1.2"/><rect x="519.15" y="494.22" width="5.8" height="5.8" fill="none" stroke="#D95319" stroke-width="1.2"/><rect x="571.87" y="488.33" width="5.8" height="5.8" fill="none" stroke="#D95319" stroke-width="1.2"/><rect x="624.58" y="482.86" width="5.8" height="5.8" fill="none" stroke="#D95319" stroke-width="1.2"/><rect x="677.30" y="477.71" width="5.8" height="5.8" fill="none" stroke="#D95319" stroke-width="1.2"/>
<polyline points="47.60,487.15 100.32,473.42 153.03,461.08 205.75,450.70 258.47,440.49 311.18,431.66 363.90,423.00 416.62,414.99 469.33,408.21 522.05,400.77 574.77,394.24 627.48,388.52 680.20,382.80" fill="none" stroke="#1a8a1a" stroke-opacity="0.45" stroke-width="0.95"/><polyline points="47.60,487.15 100.32,473.42 153.03,461.08 205.75,450.70 258.47,440.49 311.18,431.66 363.90,423.00 416.62,414.99 469.33,408.21 522.05,400.77 574.77,394.24 627.48,388.52 680.20,382.80" fill="none" stroke="#1a8a1a" stroke-width="0.95" stroke-dasharray="2.0 1.2"/><path d="M45.10,484.65 L50.10,489.65 M45.10,489.65 L50.10,484.65" stroke="#1a8a1a" stroke-width="1.5"/><path d="M97.82,470.92 L102.82,475.92 M97.82,475.92 L102.82,470.92" stroke="#1a8a1a" stroke-width="1.5"/><path d="M150.53,458.58 L155.53,463.58 M150.53,463.58 L155.53,458.58" stroke="#1a8a1a" stroke-width="1.5"/><path d="M203.25,448.20 L208.25,453.20 M203.25,453.20 L208.25,448.20" stroke="#1a8a1a" stroke-width="1.5"/><path d="M255.97,437.99 L260.97,442.99 M255.97,442.99 L260.97,437.99" stroke="#1a8a1a" stroke-width="1.5"/><path d="M308.68,429.16 L313.68,434.16 M308.68,434.16 L313.68,429.16" stroke="#1a8a1a" stroke-width="1.5"/><path d="M361.40,420.50 L366.40,425.50 M361.40,425.50 L366.40,420.50" stroke="#1a8a1a" stroke-width="1.5"/><path d="M414.12,412.49 L419.12,417.49 M414.12,417.49 L419.12,412.49" stroke="#1a8a1a" stroke-width="1.5"/><path d="M466.83,405.71 L471.83,410.71 M466.83,410.71 L471.83,405.71" stroke="#1a8a1a" stroke-width="1.5"/><path d="M519.55,398.27 L524.55,403.27 M519.55,403.27 L524.55,398.27" stroke="#1a8a1a" stroke-width="1.5"/><path d="M572.27,391.74 L577.27,396.74 M572.27,396.74 L577.27,391.74" stroke="#1a8a1a" stroke-width="1.5"/><path d="M624.98,386.02 L629.98,391.02 M624.98,391.02 L629.98,386.02" stroke="#1a8a1a" stroke-width="1.5"/><path d="M677.70,380.30 L682.70,385.30 M677.70,385.30 L682.70,380.30" stroke="#1a8a1a" stroke-width="1.5"/>
<polyline points="47.60,594.27 100.32,574.83 153.03,557.83 205.75,542.63 258.47,527.60 311.18,515.75 363.90,504.47 416.62,493.93 469.33,484.04 522.05,475.13 574.77,466.64 627.48,458.38 680.20,450.87" fill="none" stroke="#7E2F8E" stroke-opacity="0.6" stroke-width="0.9"/><polyline points="47.60,594.27 100.32,574.83 153.03,557.83 205.75,542.63 258.47,527.60 311.18,515.75 363.90,504.47 416.62,493.93 469.33,484.04 522.05,475.13 574.77,466.64 627.48,458.38 680.20,450.87" fill="none" stroke="#7E2F8E" stroke-width="0.9" stroke-dasharray="1.7 1.2"/><path d="M47.60,589.97 L50.60,594.27 L47.60,598.57 L44.60,594.27 Z" fill="none" stroke="#7E2F8E" stroke-width="1.1"/><path d="M100.32,570.53 L103.32,574.83 L100.32,579.13 L97.32,574.83 Z" fill="none" stroke="#7E2F8E" stroke-width="1.1"/><path d="M153.03,553.53 L156.03,557.83 L153.03,562.13 L150.03,557.83 Z" fill="none" stroke="#7E2F8E" stroke-width="1.1"/><path d="M205.75,538.33 L208.75,542.63 L205.75,546.93 L202.75,542.63 Z" fill="none" stroke="#7E2F8E" stroke-width="1.1"/><path d="M258.47,523.30 L261.47,527.60 L258.47,531.90 L255.47,527.60 Z" fill="none" stroke="#7E2F8E" stroke-width="1.1"/><path d="M311.18,511.45 L314.18,515.75 L311.18,520.05 L308.18,515.75 Z" fill="none" stroke="#7E2F8E" stroke-width="1.1"/><path d="M363.90,500.17 L366.90,504.47 L363.90,508.77 L360.90,504.47 Z" fill="none" stroke="#7E2F8E" stroke-width="1.1"/><path d="M416.62,489.63 L419.62,493.93 L416.62,498.23 L413.62,493.93 Z" fill="none" stroke="#7E2F8E" stroke-width="1.1"/><path d="M469.33,479.74 L472.33,484.04 L469.33,488.34 L466.33,484.04 Z" fill="none" stroke="#7E2F8E" stroke-width="1.1"/><path d="M522.05,470.83 L525.05,475.13 L522.05,479.43 L519.05,475.13 Z" fill="none" stroke="#7E2F8E" stroke-width="1.1"/><path d="M574.77,462.34 L577.77,466.64 L574.77,470.94 L571.77,466.64 Z" fill="none" stroke="#7E2F8E" stroke-width="1.1"/><path d="M627.48,454.08 L630.48,458.38 L627.48,462.68 L624.48,458.38 Z" fill="none" stroke="#7E2F8E" stroke-width="1.1"/><path d="M680.20,446.57 L683.20,450.87 L680.20,455.17 L677.20,450.87 Z" fill="none" stroke="#7E2F8E" stroke-width="1.1"/>
<line x1="230.50" y1="409.20" x2="190.49" y2="447.92" stroke="#222" stroke-width="0.75"/><path d="M186.90,451.40 L189.48,445.15 L190.49,447.92 L193.23,449.03 Z" fill="#111"/>
<line x1="230.50" y1="409.20" x2="197.96" y2="485.40" stroke="#222" stroke-width="0.75"/><path d="M196.00,490.00 L195.95,483.24 L197.96,485.40 L200.92,485.36 Z" fill="#111"/>
<line x1="230.50" y1="409.20" x2="243.45" y2="526.33" stroke="#222" stroke-width="0.75"/><path d="M244.00,531.30 L240.64,525.43 L243.45,526.33 L246.00,524.84 Z" fill="#111"/>
<line x1="230.50" y1="409.20" x2="294.83" y2="522.65" stroke="#222" stroke-width="0.75"/><path d="M297.30,527.00 L291.89,522.94 L294.83,522.65 L296.59,520.27 Z" fill="#111"/>
<line x1="419.70" y1="608.50" x2="458.35" y2="552.91" stroke="#222" stroke-width="0.75"/><path d="M461.20,548.80 L459.88,555.43 L458.35,552.91 L455.44,552.35 Z" fill="#111"/>
<line x1="419.70" y1="608.50" x2="442.89" y2="523.22" stroke="#222" stroke-width="0.75"/><path d="M444.20,518.40 L445.18,525.09 L442.89,523.22 L439.97,523.67 Z" fill="#111"/>
<line x1="419.70" y1="608.50" x2="399.64" y2="491.53" stroke="#222" stroke-width="0.75"/><path d="M398.80,486.60 L402.51,492.25 L399.64,491.53 L397.19,493.17 Z" fill="#111"/>
<line x1="419.70" y1="608.50" x2="376.59" y2="459.10" stroke="#222" stroke-width="0.75"/><path d="M375.20,454.30 L379.51,459.51 L376.59,459.10 L374.32,461.01 Z" fill="#111"/>
<rect x="563.2" y="585.4" width="101.80" height="72.00" fill="#fff" stroke="#8a8a8a" stroke-width="1"/><line x1="572.0" y1="594.1" x2="590.9" y2="594.1" fill="none" stroke="#0072BD" stroke-opacity="0.3" stroke-width="1.1"/><line x1="572.0" y1="594.1" x2="590.9" y2="594.1" fill="none" stroke="#0072BD" stroke-width="1.1" stroke-dasharray="3.6 1.1 1.1 1.1"/><path d="M581.45,590.80 L584.75,597.10 L578.15,597.10 Z" fill="none" stroke="#0072BD" stroke-width="1.2" stroke-linejoin="miter"/><text x="592.6" y="598.70" class="lg">Padé-Bessel</text><line x1="572.0" y1="612.3" x2="590.9" y2="612.3" fill="none" stroke="#D95319" stroke-width="1.15" stroke-dasharray="3.3 2.5"/><rect x="578.55" y="609.40" width="5.8" height="5.8" fill="none" stroke="#D95319" stroke-width="1.2"/><text x="592.6" y="616.90" class="lg">Bessel</text><line x1="572.0" y1="630.3" x2="590.9" y2="630.3" fill="none" stroke="#1a8a1a" stroke-opacity="0.45" stroke-width="0.95"/><line x1="572.0" y1="630.3" x2="590.9" y2="630.3" fill="none" stroke="#1a8a1a" stroke-width="0.95" stroke-dasharray="2.0 1.2"/><path d="M578.95,627.80 L583.95,632.80 M578.95,632.80 L583.95,627.80" stroke="#1a8a1a" stroke-width="1.5"/><text x="592.6" y="634.90" class="lg">RZF</text><line x1="572.0" y1="648.3" x2="590.9" y2="648.3" fill="none" stroke="#7E2F8E" stroke-opacity="0.6" stroke-width="0.9"/><line x1="572.0" y1="648.3" x2="590.9" y2="648.3" fill="none" stroke="#7E2F8E" stroke-width="0.9" stroke-dasharray="1.7 1.2"/><path d="M581.45,644.00 L584.45,648.30 L581.45,652.60 L578.45,648.30 Z" fill="none" stroke="#7E2F8E" stroke-width="1.1"/><text x="592.6" y="652.90" class="lg">SLNR</text>
<text x="-0.4" y="11.2" class="pl">a</text>
<text x="-0.5" y="356.9" class="pl" style="font-size:20.3px">b</text>
<text x="362.2" y="352.7" text-anchor="middle" class="lb">Number of scatterers</text>
<text transform="translate(13.4,174.0) rotate(-90)" text-anchor="middle" class="lb">Average SE per UE (bit/s/Hz)</text>
<text transform="translate(13.4,523.7) rotate(-90)" text-anchor="middle" class="lb">Average SE per UE (bit/s/Hz)</text>
<text x="364.0" y="703.7" text-anchor="middle" class="lb"><tspan font-style="italic">η</tspan> (LoS strength)</text>
<g transform="translate(178.10,53.70)" fill="none" stroke="#1a1a1a" stroke-width="1.2" stroke-linecap="round"><path d="M0.2,-5.0 C0.5,-6.5 1.7,-7.1 2.4,-6.3 L1.3,-0.4"/><path d="M2.2,-4.8 C3.1,-6.5 4.4,-7.0 5.4,-6.9 C6.4,-6.8 6.8,-6.1 6.7,-5.1 L4.7,2.5"/></g><line x1="190.50" y1="48.30" x2="200.60" y2="48.30" stroke="#222" stroke-width="0.95"/><line x1="190.50" y1="51.35" x2="200.60" y2="51.35" stroke="#222" stroke-width="0.95"/><text x="204.90" y="53.70" class="an">0.8</text>
<g transform="translate(308.10,277.90)" fill="none" stroke="#1a1a1a" stroke-width="1.2" stroke-linecap="round"><path d="M0.2,-5.0 C0.5,-6.5 1.7,-7.1 2.4,-6.3 L1.3,-0.4"/><path d="M2.2,-4.8 C3.1,-6.5 4.4,-7.0 5.4,-6.9 C6.4,-6.8 6.8,-6.1 6.7,-5.1 L4.7,2.5"/></g><line x1="320.50" y1="272.50" x2="330.60" y2="272.50" stroke="#222" stroke-width="0.95"/><line x1="320.50" y1="275.55" x2="330.60" y2="275.55" stroke="#222" stroke-width="0.95"/><text x="334.90" y="277.90" class="an">0.4</text>
<text x="230.8" y="406.1" class="an">12 scatterers</text>
<text x="352.9" y="622.5" class="an" style="font-size:14.7px">4 scatterers</text>
</svg>
</body></html>
